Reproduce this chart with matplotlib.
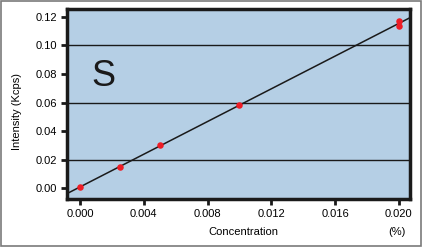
import numpy as np
import matplotlib
matplotlib.use("Agg")
from matplotlib import pyplot as plt
from matplotlib.patches import Rectangle

# calibration data for S
conc = [0.0, 0.0025, 0.005, 0.010, 0.020, 0.020]
intensity = [0.001, 0.0145, 0.030, 0.058, 0.117, 0.114]
xticks = [0.000, 0.004, 0.008, 0.012, 0.016, 0.020]
yticks = [0.00, 0.02, 0.04, 0.06, 0.08, 0.10, 0.12]
grid_levels = [0.02, 0.06, 0.10]

plt.rcParams['font.family'] = ['Liberation Sans', 'DejaVu Sans']

fig = plt.figure(figsize=(4.23, 2.47), dpi=100)
fig.patches.append(Rectangle((0.003, 0.006), 0.993, 0.988, transform=fig.transFigure,
                             fill=False, edgecolor='#7a7a7a', linewidth=1.2))
ax = fig.add_axes([67/423, 1-199/247, (410-67)/423, (199-9)/247])
ax.set_facecolor('#b5cfe5')

xlim = (-0.00082, 0.0207)
ax.set_xlim(*xlim)
ax.set_ylim(-0.0077, 0.1256)

for g in grid_levels:
    ax.axhline(g, color='#1a1a1a', lw=1.0, zorder=1)

slope, icpt = np.polyfit(conc, intensity, 1)
xs = np.array(xlim)
ax.plot(xs, slope*xs + icpt, color='#1a1a1a', lw=1.1, zorder=2)
ax.scatter(conc, intensity, s=22, color='#ee1c25', zorder=3, linewidths=0)

ax.set_xticks(xticks)
ax.set_xticklabels([f"{v:.3f}" for v in xticks])
ax.set_yticks(yticks)
ax.set_yticklabels([f"{v:.2f}" for v in yticks])
ax.tick_params(direction='out', length=4, width=2, labelsize=8, pad=3, color='#1a1a1a')
for sp in ax.spines.values():
    sp.set_linewidth(2.5)
    sp.set_color('#1a1a1a')

ax.text(0.07, 0.647, "S", transform=ax.transAxes, fontsize=26,
        color='#1a1a1a', va='center')

fig.text(17/423, 1-111/247, "Intensity (Kcps)", rotation=90, fontsize=8,
         ha='center', va='center')
fig.text(243/423, 1-232/247, "Concentration", fontsize=8, ha='center', va='center')
fig.text(397/423, 1-232/247, "(%)", fontsize=8, ha='center', va='center')

fig.savefig("out.png", dpi=100)
